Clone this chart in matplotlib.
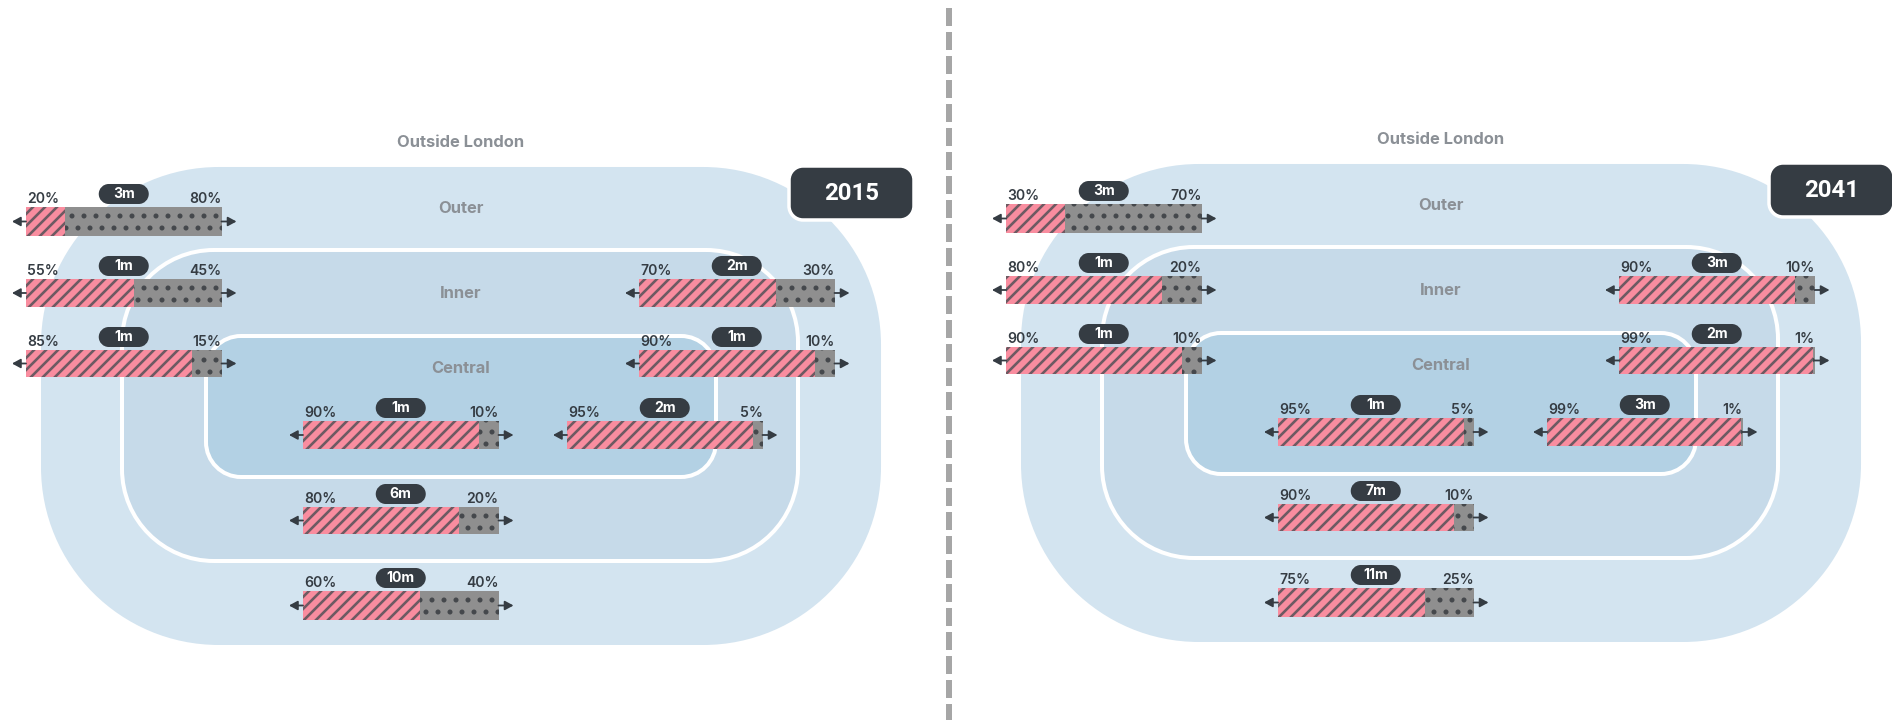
import matplotlib
matplotlib.use("Agg")
import matplotlib.pyplot as plt
from matplotlib.patches import PathPatch
from matplotlib.path import Path

# bars go: outer left, inner left, central left, inner right, central right,
# central low 1, central low 2, inner low, outer low
pink_2015 = [20, 55, 85, 70, 90, 90, 95, 80, 60]
grey_2015 = [80, 45, 15, 30, 10, 10, 5, 20, 40]
total_2015 = ["3m", "1m", "1m", "2m", "1m", "1m", "2m", "6m", "10m"]

pink_2041 = [30, 80, 90, 90, 99, 95, 99, 90, 75]
grey_2041 = [70, 20, 10, 10, 1, 5, 1, 10, 25]
total_2041 = ["3m", "1m", "1m", "3m", "2m", "1m", "3m", "7m", "11m"]

zone_names = ["Outside London", "Outer", "Inner", "Central"]

# layout in pixels, one (left, top, height) per bar
bar_spots = [(26, 207, 29), (26, 279, 28), (26, 350, 27), (639, 279, 28), (639, 350, 27),
             (303, 421, 28), (567, 421, 28), (303, 507, 27), (303, 591, 29)]
bar_len = 195.5
low_shift = [0, 0, 0, 0, 0, -5, 0, -5, -5]

DARK = "#353c43"
PINK = "#f98d9f"
STRIPE = "#6e5a62"
GREY = "#8f8f8f"
DOT = "#45484c"
LABEL = "#8b9096"

plt.rcParams["font.family"] = ["Inter", "DejaVu Sans"]
plt.rcParams["hatch.linewidth"] = 2.6

fig = plt.figure(figsize=(1892.01 / 72, 720.01 / 72), dpi=72)
ax = fig.add_axes([0, 0, 1, 1])
ax.set_xlim(0, 1892)
ax.set_ylim(720, 0)
ax.axis("off")


def rounded(x0, y0, x1, y1, r, face, edge="none", lw=0, z=1):
    k = r * 0.4477
    verts = [(x0 + r, y0), (x1 - r, y0), (x1 - k, y0), (x1, y0 + k), (x1, y0 + r),
             (x1, y1 - r), (x1, y1 - k), (x1 - k, y1), (x1 - r, y1),
             (x0 + r, y1), (x0 + k, y1), (x0, y1 - k), (x0, y1 - r),
             (x0, y0 + r), (x0, y0 + k), (x0 + k, y0), (x0 + r, y0), (x0 + r, y0)]
    codes = [Path.MOVETO, Path.LINETO, Path.CURVE4, Path.CURVE4, Path.CURVE4,
             Path.LINETO, Path.CURVE4, Path.CURVE4, Path.CURVE4,
             Path.LINETO, Path.CURVE4, Path.CURVE4, Path.CURVE4,
             Path.LINETO, Path.CURVE4, Path.CURVE4, Path.CURVE4, Path.CLOSEPOLY]
    ax.add_patch(PathPatch(Path(verts, codes), facecolor=face, edgecolor=edge, linewidth=lw, zorder=z))


def draw_panel(year, pink, grey, total, dx, dy, shift):
    rounded(41 + dx, 167 + dy, 881 + dx, 645 + dy, 178, "#d3e4f0")
    rounded(122 + dx, 250 + dy, 798 + dx, 561 + dy, 92, "#c6dae9", "white", 4, 2)
    rounded(206 + dx, 336 + dy, 716 + dx, 477 + dy, 35, "#b3d1e4", "white", 4, 3)

    ax.text(461 + dx, 142 + dy, zone_names[0], color=LABEL, fontsize=16.5, fontweight="bold", ha="center", va="center")
    ax.text(461 + dx, 208 + dy, zone_names[1], color=LABEL, fontsize=16.5, fontweight="bold", ha="center", va="center")
    ax.text(461 + dx, 293 + dy, zone_names[2], color=LABEL, fontsize=16.5, fontweight="bold", ha="center", va="center")
    ax.text(461 + dx, 368 + dy, zone_names[3], color=LABEL, fontsize=16.5, fontweight="bold", ha="center", va="center")

    for i in range(len(pink)):
        left, top, h = bar_spots[i]
        left = left + dx + shift[i]
        top = top + dy
        mid = top + h / 2.0
        w_pink = bar_len * pink[i] / 100.0
        w_grey = bar_len * grey[i] / 100.0

        ax.barh(mid, w_pink, h, left=left, color=PINK, edgecolor=STRIPE, hatch="//", linewidth=0, zorder=5)
        g = ax.barh(mid, w_grey, h, left=left + w_pink, color=GREY, edgecolor=DOT, hatch=".", linewidth=0, zorder=5)
        for patch in g:
            patch.set_hatch_linewidth(2.6)

        style = "-|>,head_length=0.7,head_width=0.38"
        ax.annotate("", xy=(left - 14, mid), xytext=(left, mid), zorder=6,
                    arrowprops=dict(arrowstyle=style, color=DARK, lw=1.8, shrinkA=0, shrinkB=0))
        right = left + bar_len
        ax.annotate("", xy=(right + 15, mid), xytext=(right, mid), zorder=6,
                    arrowprops=dict(arrowstyle=style, color=DARK, lw=1.8, shrinkA=0, shrinkB=0))

        ax.text(left + 1, top - 8, "%d%%" % pink[i], color=DARK, fontsize=14, fontweight="semibold", ha="left", va="center", zorder=7)
        ax.text(right, top - 8, "%d%%" % grey[i], color=DARK, fontsize=14, fontweight="semibold", ha="right", va="center", zorder=7)

        cx = left + bar_len / 2.0
        rounded(cx - 25, top - 23, cx + 25, top - 3, 10, DARK, z=7)
        ax.text(cx, top - 13, total[i], color="white", fontsize=14, fontweight="bold", ha="center", va="center", zorder=8)

    rounded(789 + dx, 166 + dy, 914 + dx, 220 + dy, 14, DARK, "white", 3.5, 9)
    ax.text(852 + dx, 193 + dy, year, color="white", fontsize=24, fontweight="bold", family="Roboto", ha="center", va="center", zorder=10)


draw_panel("2015", pink_2015, grey_2015, total_2015, 0, 0, [0] * 9)
draw_panel("2041", pink_2041, grey_2041, total_2041, 980, -3, low_shift)

# dashed divider between the two years
ax.plot([949, 949], [8, 720], color="#a6a6a6", lw=6, dashes=(3, 1), zorder=1)

fig.savefig("out.png", dpi=72, facecolor="white")
